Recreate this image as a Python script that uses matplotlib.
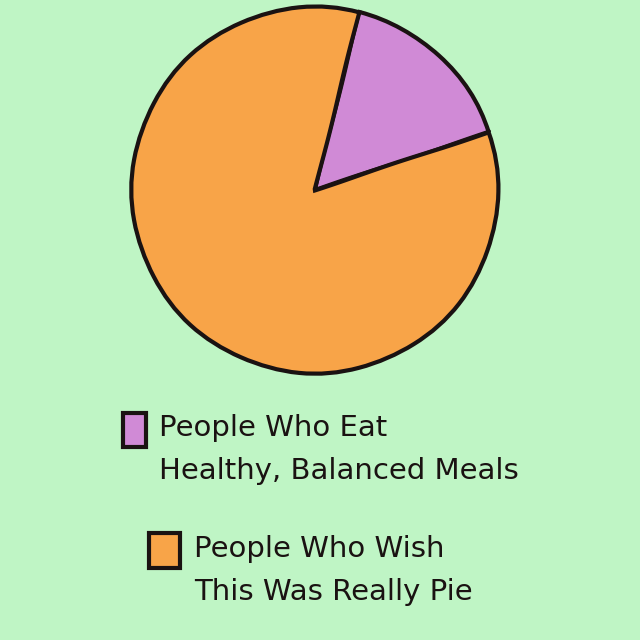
import matplotlib.pyplot as plt
from matplotlib.patches import Rectangle

# pie data
labels = ["People Who Eat\nHealthy, Balanced Meals", "People Who Wish\nThis Was Really Pie"]
shares = [16, 84]
colors = ["#d08ad6", "#f8a448"]
bg = "#bff5c5"

fig = plt.figure(figsize=(6.4, 6.4), dpi=100, facecolor=bg)

# pie sits in the top part of the picture
cx, cy, r = 0.492, 0.703, 0.292
ax = fig.add_axes([cx - r, cy - r, 2 * r, 2 * r])
ax.set_facecolor(bg)
wedges, _ = ax.pie(shares, colors=colors, startangle=18.4, counterclock=True,
                   wedgeprops=dict(edgecolor="#1a1212", linewidth=3, joinstyle="miter"))
for w in wedges:
    w.set_sketch_params(scale=0.4, length=150, randomness=1.5)
ax.set_xlim(-1.02, 1.02)
ax.set_ylim(-1.02, 1.02)
ax.set_aspect("equal")
ax.axis("off")

# hand made legend
boxes = [(123, 413, 23, 34), (149, 533, 31, 35)]
text_x = [159, 194]
text_y = [414, 535]
for (bx, by, bw, bh), tx, ty, lab, c in zip(boxes, text_x, text_y, labels, colors):
    rect = Rectangle((bx / 640, 1 - (by + bh) / 640), bw / 640, bh / 640,
                     transform=fig.transFigure, facecolor=c, edgecolor="#1a1212",
                     linewidth=3)
    fig.patches.append(rect)
    fig.text(tx / 640, 1 - ty / 640, lab, fontsize=21, color="#1a1212",
             va="top", ha="left", linespacing=1.66, family="DejaVu Sans")

fig.savefig("out.png", dpi=100, facecolor=bg)
